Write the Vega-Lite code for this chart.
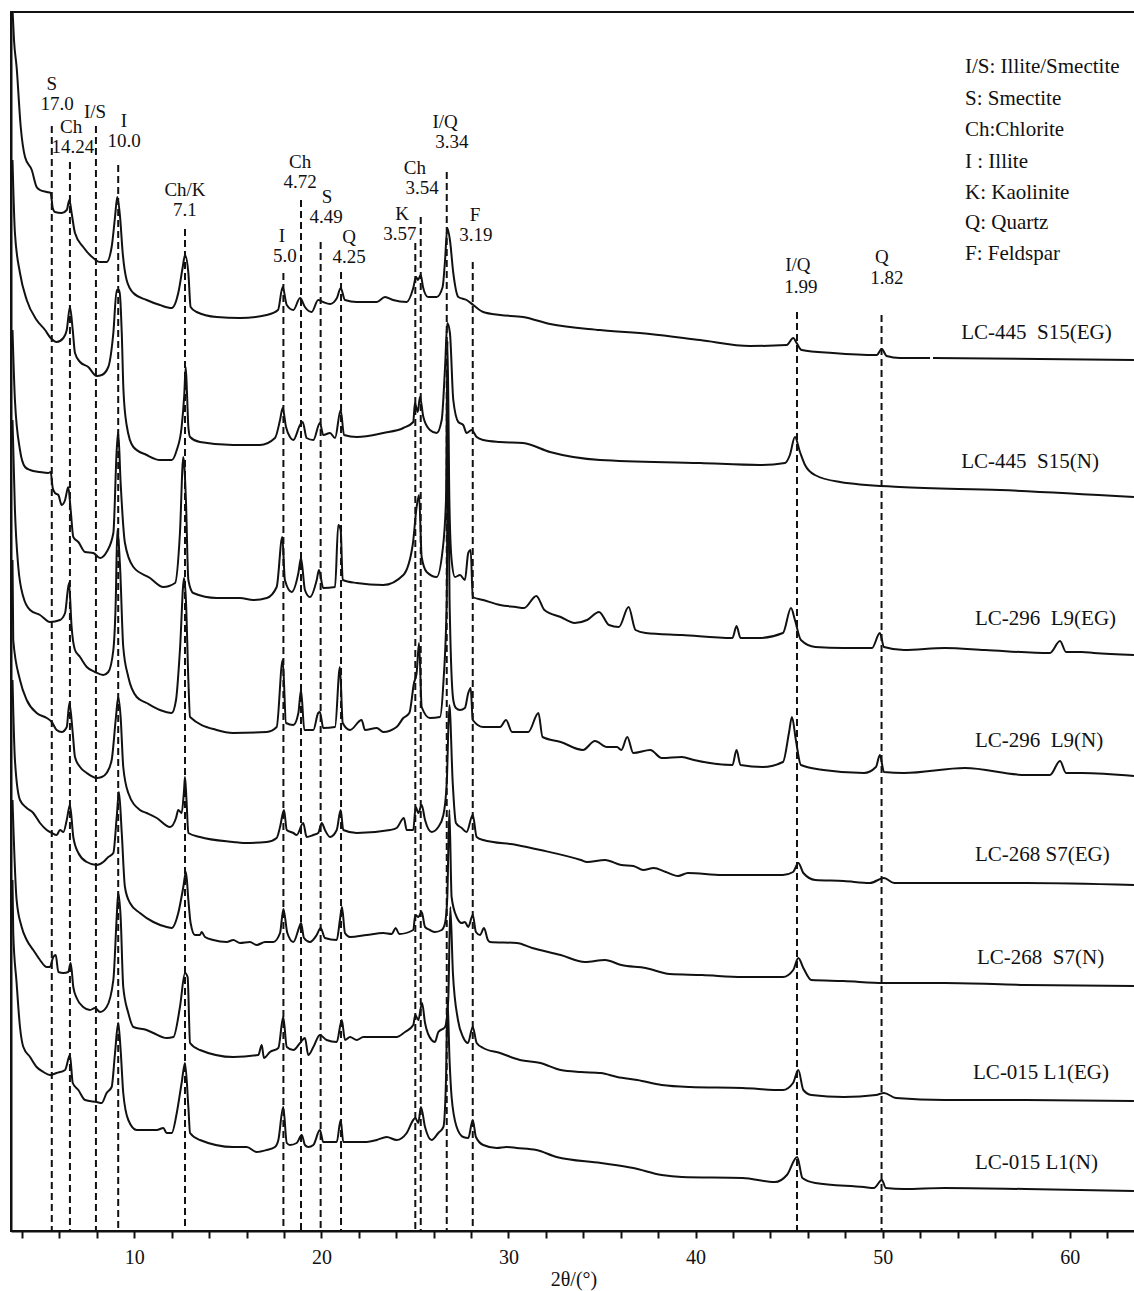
{
"$schema": "https://vega.github.io/schema/vega-lite/v6.json",
"width": 1125, "height": 1219,
"autosize": {"type": "none"},
"padding": {"left": 11, "top": 12, "right": 0, "bottom": 60},
"background": "white",
"config": {"view": {"stroke": "#111", "strokeWidth": 2}, "font": "Liberation Serif", "axis": {"labelOverlap": false}},
"datasets": {
"curves": [
{"s":1,"t":3.50,"i":1218},{"s":1,"t":3.57,"i":1191},{"s":1,"t":3.71,"i":1164},{"s":1,"t":3.93,"i":1104},{"s":1,"t":4.16,"i":1074},{"s":1,"t":4.52,"i":1061},{"s":1,"t":4.78,"i":1044},{"s":1,"t":4.96,"i":1041},{"s":1,"t":5.32,"i":1039},{"s":1,"t":5.53,"i":1038},{"s":1,"t":5.64,"i":1023},{"s":1,"t":5.76,"i":1019},{"s":1,"t":6.12,"i":1018},{"s":1,"t":6.39,"i":1021},{"s":1,"t":6.53,"i":1031},{"s":1,"t":6.65,"i":1018},{"s":1,"t":6.83,"i":998},{"s":1,"t":7.27,"i":984},{"s":1,"t":7.81,"i":973},{"s":1,"t":8.17,"i":969},{"s":1,"t":8.52,"i":969},{"s":1,"t":8.79,"i":984},{"s":1,"t":8.97,"i":1014},{"s":1,"t":9.09,"i":1034},{"s":1,"t":9.24,"i":1014},{"s":1,"t":9.38,"i":978},{"s":1,"t":9.59,"i":951},{"s":1,"t":9.95,"i":938},{"s":1,"t":10.66,"i":931},{"s":1,"t":11.37,"i":926},{"s":1,"t":12.00,"i":923},{"s":1,"t":12.35,"i":938},{"s":1,"t":12.59,"i":964},{"s":1,"t":12.71,"i":976},{"s":1,"t":12.89,"i":958},{"s":1,"t":13.01,"i":924},{"s":1,"t":13.33,"i":919},{"s":1,"t":14.40,"i":914},{"s":1,"t":15.65,"i":913},{"s":1,"t":17.08,"i":916},{"s":1,"t":17.68,"i":921},{"s":1,"t":17.93,"i":944},{"s":1,"t":18.15,"i":926},{"s":1,"t":18.50,"i":921},{"s":1,"t":18.86,"i":933},{"s":1,"t":19.12,"i":924},{"s":1,"t":19.48,"i":919},{"s":1,"t":19.83,"i":931},{"s":1,"t":20.09,"i":929},{"s":1,"t":20.46,"i":927},{"s":1,"t":20.83,"i":933},{"s":1,"t":21.03,"i":943},{"s":1,"t":21.26,"i":931},{"s":1,"t":21.89,"i":929},{"s":1,"t":22.96,"i":929},{"s":1,"t":23.40,"i":934},{"s":1,"t":23.83,"i":931},{"s":1,"t":24.56,"i":929},{"s":1,"t":24.91,"i":943},{"s":1,"t":25.06,"i":954},{"s":1,"t":25.16,"i":951},{"s":1,"t":25.31,"i":956},{"s":1,"t":25.43,"i":944},{"s":1,"t":25.70,"i":934},{"s":1,"t":26.16,"i":934},{"s":1,"t":26.48,"i":944},{"s":1,"t":26.61,"i":971},{"s":1,"t":26.73,"i":1003},{"s":1,"t":26.87,"i":991},{"s":1,"t":27.05,"i":958},{"s":1,"t":27.32,"i":934},{"s":1,"t":27.76,"i":931},{"s":1,"t":28.12,"i":926},{"s":1,"t":28.65,"i":919},{"s":1,"t":29.55,"i":916},{"s":1,"t":30.78,"i":914},{"s":1,"t":32.22,"i":907},{"s":1,"t":34.89,"i":901},{"s":1,"t":37.56,"i":897},{"s":1,"t":40.24,"i":891},{"s":1,"t":42.91,"i":885},{"s":1,"t":44.87,"i":886},{"s":1,"t":45.22,"i":893},{"s":1,"t":45.40,"i":888},{"s":1,"t":45.67,"i":881},{"s":1,"t":47.34,"i":878},{"s":1,"t":49.68,"i":876},{"s":1,"t":49.95,"i":882},{"s":1,"t":50.21,"i":875},{"s":1,"t":50.92,"i":873},{"s":1,"t":52.53,"i":873},{"s":9,"t":52.69,"i":873},{"s":9,"t":63.43,"i":871},
{"s":2,"t":3.49,"i":1071},{"s":2,"t":3.62,"i":998},{"s":2,"t":3.89,"i":958},{"s":2,"t":4.25,"i":931},{"s":2,"t":4.78,"i":911},{"s":2,"t":5.23,"i":901},{"s":2,"t":5.53,"i":893},{"s":2,"t":5.85,"i":889},{"s":2,"t":6.21,"i":893},{"s":2,"t":6.39,"i":901},{"s":2,"t":6.56,"i":924},{"s":2,"t":6.71,"i":901},{"s":2,"t":6.83,"i":878},{"s":2,"t":7.10,"i":869},{"s":2,"t":7.54,"i":864},{"s":2,"t":7.99,"i":855},{"s":2,"t":8.26,"i":856},{"s":2,"t":8.61,"i":864},{"s":2,"t":8.88,"i":898},{"s":2,"t":9.06,"i":941},{"s":2,"t":9.20,"i":941},{"s":2,"t":9.33,"i":898},{"s":2,"t":9.42,"i":841},{"s":2,"t":9.59,"i":806},{"s":2,"t":9.95,"i":784},{"s":2,"t":10.66,"i":776},{"s":2,"t":11.37,"i":771},{"s":2,"t":12.00,"i":771},{"s":2,"t":12.27,"i":781},{"s":2,"t":12.53,"i":804},{"s":2,"t":12.67,"i":836},{"s":2,"t":12.75,"i":864},{"s":2,"t":12.82,"i":836},{"s":2,"t":12.89,"i":804},{"s":2,"t":12.98,"i":794},{"s":2,"t":13.51,"i":789},{"s":2,"t":15.28,"i":786},{"s":2,"t":16.72,"i":786},{"s":2,"t":17.52,"i":793},{"s":2,"t":17.79,"i":811},{"s":2,"t":17.93,"i":823},{"s":2,"t":18.11,"i":804},{"s":2,"t":18.32,"i":794},{"s":2,"t":18.50,"i":791},{"s":2,"t":18.86,"i":806},{"s":2,"t":19.00,"i":809},{"s":2,"t":19.21,"i":793},{"s":2,"t":19.57,"i":791},{"s":2,"t":19.92,"i":808},{"s":2,"t":20.10,"i":796},{"s":2,"t":20.46,"i":798},{"s":2,"t":20.73,"i":793},{"s":2,"t":21.03,"i":821},{"s":2,"t":21.21,"i":796},{"s":2,"t":21.89,"i":794},{"s":2,"t":23.31,"i":798},{"s":2,"t":24.38,"i":803},{"s":2,"t":24.91,"i":809},{"s":2,"t":25.00,"i":828},{"s":2,"t":25.15,"i":819},{"s":2,"t":25.27,"i":834},{"s":2,"t":25.45,"i":814},{"s":2,"t":25.80,"i":801},{"s":2,"t":26.16,"i":798},{"s":2,"t":26.43,"i":811},{"s":2,"t":26.61,"i":864},{"s":2,"t":26.73,"i":908},{"s":2,"t":26.87,"i":898},{"s":2,"t":27.05,"i":831},{"s":2,"t":27.32,"i":809},{"s":2,"t":27.58,"i":806},{"s":2,"t":27.76,"i":798},{"s":2,"t":28.03,"i":801},{"s":2,"t":28.30,"i":794},{"s":2,"t":28.65,"i":791},{"s":2,"t":29.55,"i":789},{"s":2,"t":30.78,"i":788},{"s":2,"t":32.22,"i":779},{"s":2,"t":34.89,"i":771},{"s":2,"t":40.24,"i":768},{"s":2,"t":43.44,"i":766},{"s":2,"t":44.78,"i":768},{"s":2,"t":45.04,"i":776},{"s":2,"t":45.31,"i":794},{"s":2,"t":45.58,"i":779},{"s":2,"t":45.85,"i":766},{"s":2,"t":46.38,"i":756},{"s":2,"t":47.72,"i":749},{"s":2,"t":50.92,"i":744},{"s":2,"t":56.27,"i":741},{"s":2,"t":63.43,"i":734},
{"s":3,"t":3.49,"i":901},{"s":3,"t":3.62,"i":831},{"s":3,"t":3.89,"i":781},{"s":3,"t":4.16,"i":764},{"s":3,"t":4.43,"i":761},{"s":3,"t":4.96,"i":759},{"s":3,"t":5.40,"i":758},{"s":3,"t":5.53,"i":759},{"s":3,"t":5.64,"i":743},{"s":3,"t":5.76,"i":738},{"s":3,"t":5.94,"i":736},{"s":3,"t":6.12,"i":726},{"s":3,"t":6.30,"i":731},{"s":3,"t":6.47,"i":744},{"s":3,"t":6.60,"i":721},{"s":3,"t":6.74,"i":694},{"s":3,"t":7.01,"i":689},{"s":3,"t":7.37,"i":679},{"s":3,"t":7.81,"i":678},{"s":3,"t":8.17,"i":673},{"s":3,"t":8.52,"i":679},{"s":3,"t":8.88,"i":698},{"s":3,"t":9.06,"i":781},{"s":3,"t":9.14,"i":799},{"s":3,"t":9.27,"i":748},{"s":3,"t":9.50,"i":688},{"s":3,"t":9.95,"i":664},{"s":3,"t":10.84,"i":653},{"s":3,"t":11.55,"i":644},{"s":3,"t":12.18,"i":648},{"s":3,"t":12.44,"i":698},{"s":3,"t":12.62,"i":774},{"s":3,"t":12.76,"i":731},{"s":3,"t":12.89,"i":651},{"s":3,"t":13.15,"i":638},{"s":3,"t":14.40,"i":633},{"s":3,"t":15.65,"i":633},{"s":3,"t":16.36,"i":631},{"s":3,"t":17.08,"i":633},{"s":3,"t":17.61,"i":644},{"s":3,"t":17.91,"i":694},{"s":3,"t":18.05,"i":651},{"s":3,"t":18.41,"i":639},{"s":3,"t":18.77,"i":658},{"s":3,"t":18.91,"i":673},{"s":3,"t":19.12,"i":641},{"s":3,"t":19.39,"i":634},{"s":3,"t":19.75,"i":651},{"s":3,"t":19.87,"i":661},{"s":3,"t":20.10,"i":643},{"s":3,"t":20.73,"i":644},{"s":3,"t":20.90,"i":706},{"s":3,"t":21.03,"i":701},{"s":3,"t":21.14,"i":651},{"s":3,"t":21.89,"i":648},{"s":3,"t":23.31,"i":646},{"s":3,"t":24.38,"i":656},{"s":3,"t":24.88,"i":686},{"s":3,"t":25.09,"i":724},{"s":3,"t":25.22,"i":736},{"s":3,"t":25.36,"i":674},{"s":3,"t":25.63,"i":659},{"s":3,"t":26.16,"i":654},{"s":3,"t":26.48,"i":681},{"s":3,"t":26.66,"i":731},{"s":3,"t":26.74,"i":890},{"s":3,"t":26.84,"i":731},{"s":3,"t":26.96,"i":671},{"s":3,"t":27.14,"i":654},{"s":3,"t":27.41,"i":656},{"s":3,"t":27.67,"i":651},{"s":3,"t":27.85,"i":678},{"s":3,"t":27.98,"i":681},{"s":3,"t":28.09,"i":634},{"s":3,"t":28.65,"i":631},{"s":3,"t":29.55,"i":626},{"s":3,"t":30.40,"i":624},{"s":3,"t":30.83,"i":623},{"s":3,"t":31.49,"i":635},{"s":3,"t":31.92,"i":621},{"s":3,"t":32.79,"i":614},{"s":3,"t":33.54,"i":608},{"s":3,"t":34.20,"i":611},{"s":3,"t":34.84,"i":619},{"s":3,"t":35.37,"i":606},{"s":3,"t":35.90,"i":604},{"s":3,"t":36.42,"i":624},{"s":3,"t":36.79,"i":601},{"s":3,"t":37.33,"i":598},{"s":3,"t":39.27,"i":596},{"s":3,"t":41.97,"i":593},{"s":3,"t":42.19,"i":605},{"s":3,"t":42.40,"i":593},{"s":3,"t":43.38,"i":593},{"s":3,"t":44.67,"i":598},{"s":3,"t":45.10,"i":623},{"s":3,"t":45.31,"i":611},{"s":3,"t":45.63,"i":591},{"s":3,"t":46.40,"i":584},{"s":3,"t":47.92,"i":583},{"s":3,"t":49.43,"i":583},{"s":3,"t":49.85,"i":598},{"s":3,"t":50.07,"i":584},{"s":3,"t":51.14,"i":581},{"s":3,"t":53.32,"i":583},{"s":3,"t":55.47,"i":581},{"s":3,"t":58.94,"i":578},{"s":3,"t":59.48,"i":590},{"s":3,"t":59.80,"i":579},{"s":3,"t":60.65,"i":579},{"s":3,"t":61.29,"i":578},{"s":3,"t":63.43,"i":576},
{"s":4,"t":3.49,"i":811},{"s":4,"t":3.62,"i":721},{"s":4,"t":3.80,"i":664},{"s":4,"t":4.07,"i":634},{"s":4,"t":4.43,"i":621},{"s":4,"t":4.96,"i":616},{"s":4,"t":5.49,"i":609},{"s":4,"t":6.03,"i":611},{"s":4,"t":6.30,"i":618},{"s":4,"t":6.51,"i":648},{"s":4,"t":6.65,"i":604},{"s":4,"t":6.83,"i":581},{"s":4,"t":7.10,"i":574},{"s":4,"t":7.46,"i":564},{"s":4,"t":7.90,"i":559},{"s":4,"t":8.34,"i":556},{"s":4,"t":8.61,"i":559},{"s":4,"t":8.88,"i":581},{"s":4,"t":9.01,"i":631},{"s":4,"t":9.09,"i":701},{"s":4,"t":9.24,"i":664},{"s":4,"t":9.41,"i":584},{"s":4,"t":9.68,"i":554},{"s":4,"t":10.13,"i":534},{"s":4,"t":10.66,"i":528},{"s":4,"t":11.37,"i":521},{"s":4,"t":12.00,"i":518},{"s":4,"t":12.23,"i":531},{"s":4,"t":12.44,"i":581},{"s":4,"t":12.66,"i":653},{"s":4,"t":12.76,"i":631},{"s":4,"t":12.89,"i":551},{"s":4,"t":12.98,"i":514},{"s":4,"t":14.40,"i":501},{"s":4,"t":15.28,"i":498},{"s":4,"t":17.08,"i":499},{"s":4,"t":17.61,"i":504},{"s":4,"t":17.93,"i":571},{"s":4,"t":18.11,"i":508},{"s":4,"t":18.50,"i":506},{"s":4,"t":18.77,"i":518},{"s":4,"t":18.91,"i":541},{"s":4,"t":19.09,"i":501},{"s":4,"t":19.57,"i":501},{"s":4,"t":19.83,"i":518},{"s":4,"t":19.92,"i":519},{"s":4,"t":20.10,"i":503},{"s":4,"t":20.73,"i":504},{"s":4,"t":20.99,"i":564},{"s":4,"t":21.14,"i":508},{"s":4,"t":21.53,"i":501},{"s":4,"t":22.15,"i":511},{"s":4,"t":22.33,"i":501},{"s":4,"t":22.96,"i":503},{"s":4,"t":23.31,"i":499},{"s":4,"t":24.02,"i":504},{"s":4,"t":24.38,"i":513},{"s":4,"t":24.70,"i":518},{"s":4,"t":24.95,"i":548},{"s":4,"t":25.09,"i":558},{"s":4,"t":25.22,"i":588},{"s":4,"t":25.36,"i":524},{"s":4,"t":25.80,"i":513},{"s":4,"t":26.34,"i":514},{"s":4,"t":26.52,"i":548},{"s":4,"t":26.70,"i":631},{"s":4,"t":26.76,"i":811},{"s":4,"t":26.85,"i":631},{"s":4,"t":27.05,"i":531},{"s":4,"t":27.19,"i":523},{"s":4,"t":27.41,"i":521},{"s":4,"t":27.67,"i":523},{"s":4,"t":27.85,"i":538},{"s":4,"t":27.98,"i":543},{"s":4,"t":28.09,"i":511},{"s":4,"t":28.65,"i":504},{"s":4,"t":29.55,"i":504},{"s":4,"t":29.87,"i":511},{"s":4,"t":30.19,"i":499},{"s":4,"t":31.06,"i":499},{"s":4,"t":31.60,"i":518},{"s":4,"t":31.82,"i":494},{"s":4,"t":32.79,"i":489},{"s":4,"t":33.98,"i":481},{"s":4,"t":34.62,"i":490},{"s":4,"t":35.26,"i":484},{"s":4,"t":35.80,"i":484},{"s":4,"t":36.03,"i":481},{"s":4,"t":36.35,"i":494},{"s":4,"t":36.67,"i":478},{"s":4,"t":37.58,"i":481},{"s":4,"t":38.19,"i":473},{"s":4,"t":39.27,"i":474},{"s":4,"t":39.91,"i":471},{"s":4,"t":41.97,"i":466},{"s":4,"t":42.19,"i":481},{"s":4,"t":42.40,"i":466},{"s":4,"t":43.59,"i":464},{"s":4,"t":44.67,"i":469},{"s":4,"t":44.99,"i":498},{"s":4,"t":45.15,"i":514},{"s":4,"t":45.36,"i":491},{"s":4,"t":45.63,"i":466},{"s":4,"t":46.84,"i":461},{"s":4,"t":49.00,"i":458},{"s":4,"t":49.64,"i":464},{"s":4,"t":49.85,"i":476},{"s":4,"t":50.07,"i":459},{"s":4,"t":51.14,"i":458},{"s":4,"t":54.40,"i":463},{"s":4,"t":57.65,"i":456},{"s":4,"t":58.94,"i":456},{"s":4,"t":59.48,"i":470},{"s":4,"t":59.80,"i":458},{"s":4,"t":60.65,"i":458},{"s":4,"t":63.43,"i":455},
{"s":5,"t":3.49,"i":671},{"s":5,"t":3.53,"i":591},{"s":5,"t":3.89,"i":551},{"s":5,"t":4.25,"i":531},{"s":5,"t":4.78,"i":518},{"s":5,"t":5.32,"i":513},{"s":5,"t":5.59,"i":509},{"s":5,"t":5.85,"i":501},{"s":5,"t":6.12,"i":499},{"s":5,"t":6.39,"i":504},{"s":5,"t":6.53,"i":528},{"s":5,"t":6.71,"i":498},{"s":5,"t":6.83,"i":474},{"s":5,"t":7.10,"i":464},{"s":5,"t":7.46,"i":458},{"s":5,"t":7.99,"i":453},{"s":5,"t":8.26,"i":454},{"s":5,"t":8.52,"i":458},{"s":5,"t":8.79,"i":471},{"s":5,"t":9.02,"i":514},{"s":5,"t":9.14,"i":534},{"s":5,"t":9.27,"i":514},{"s":5,"t":9.41,"i":464},{"s":5,"t":9.68,"i":438},{"s":5,"t":10.30,"i":421},{"s":5,"t":10.66,"i":418},{"s":5,"t":11.20,"i":413},{"s":5,"t":11.91,"i":404},{"s":5,"t":12.23,"i":413},{"s":5,"t":12.35,"i":421},{"s":5,"t":12.53,"i":418},{"s":5,"t":12.66,"i":441},{"s":5,"t":12.71,"i":454},{"s":5,"t":12.79,"i":431},{"s":5,"t":12.89,"i":398},{"s":5,"t":13.51,"i":394},{"s":5,"t":15.29,"i":389},{"s":5,"t":15.83,"i":388},{"s":5,"t":17.08,"i":389},{"s":5,"t":17.61,"i":393},{"s":5,"t":17.79,"i":404},{"s":5,"t":18.00,"i":421},{"s":5,"t":18.15,"i":401},{"s":5,"t":18.50,"i":398},{"s":5,"t":18.68,"i":396},{"s":5,"t":19.03,"i":408},{"s":5,"t":19.21,"i":394},{"s":5,"t":19.57,"i":396},{"s":5,"t":19.83,"i":398},{"s":5,"t":20.02,"i":408},{"s":5,"t":20.19,"i":401},{"s":5,"t":20.46,"i":394},{"s":5,"t":20.82,"i":401},{"s":5,"t":21.03,"i":421},{"s":5,"t":21.17,"i":401},{"s":5,"t":21.89,"i":398},{"s":5,"t":23.67,"i":401},{"s":5,"t":24.02,"i":403},{"s":5,"t":24.41,"i":413},{"s":5,"t":24.56,"i":401},{"s":5,"t":24.91,"i":401},{"s":5,"t":25.04,"i":424},{"s":5,"t":25.18,"i":418},{"s":5,"t":25.36,"i":426},{"s":5,"t":25.54,"i":411},{"s":5,"t":25.89,"i":399},{"s":5,"t":26.25,"i":404},{"s":5,"t":26.52,"i":416},{"s":5,"t":26.70,"i":448},{"s":5,"t":26.84,"i":526},{"s":5,"t":27.02,"i":448},{"s":5,"t":27.19,"i":408},{"s":5,"t":27.50,"i":403},{"s":5,"t":27.76,"i":399},{"s":5,"t":28.09,"i":416},{"s":5,"t":28.30,"i":394},{"s":5,"t":28.65,"i":391},{"s":5,"t":30.44,"i":386},{"s":5,"t":31.71,"i":381},{"s":5,"t":33.87,"i":371},{"s":5,"t":34.20,"i":369},{"s":5,"t":35.16,"i":371},{"s":5,"t":36.03,"i":366},{"s":5,"t":36.67,"i":365},{"s":5,"t":37.21,"i":361},{"s":5,"t":37.76,"i":363},{"s":5,"t":38.41,"i":359},{"s":5,"t":39.06,"i":355},{"s":5,"t":39.59,"i":358},{"s":5,"t":41.43,"i":356},{"s":5,"t":44.67,"i":356},{"s":5,"t":45.21,"i":359},{"s":5,"t":45.49,"i":368},{"s":5,"t":45.76,"i":358},{"s":5,"t":46.40,"i":351},{"s":5,"t":47.92,"i":350},{"s":5,"t":49.32,"i":348},{"s":5,"t":50.07,"i":353},{"s":5,"t":50.61,"i":348},{"s":5,"t":53.32,"i":348},{"s":5,"t":57.65,"i":348},{"s":5,"t":63.43,"i":346},
{"s":6,"t":3.49,"i":551},{"s":6,"t":3.62,"i":471},{"s":6,"t":3.89,"i":431},{"s":6,"t":4.25,"i":423},{"s":6,"t":4.60,"i":418},{"s":6,"t":4.96,"i":408},{"s":6,"t":5.32,"i":401},{"s":6,"t":5.59,"i":398},{"s":6,"t":5.85,"i":396},{"s":6,"t":6.03,"i":401},{"s":6,"t":6.21,"i":399},{"s":6,"t":6.39,"i":411},{"s":6,"t":6.56,"i":426},{"s":6,"t":6.74,"i":394},{"s":6,"t":7.01,"i":378},{"s":6,"t":7.46,"i":369},{"s":6,"t":7.99,"i":366},{"s":6,"t":8.34,"i":369},{"s":6,"t":8.61,"i":374},{"s":6,"t":8.88,"i":378},{"s":6,"t":9.06,"i":414},{"s":6,"t":9.18,"i":439},{"s":6,"t":9.33,"i":398},{"s":6,"t":9.50,"i":344},{"s":6,"t":9.77,"i":328},{"s":6,"t":10.30,"i":318},{"s":6,"t":11.02,"i":309},{"s":6,"t":11.73,"i":304},{"s":6,"t":12.00,"i":303},{"s":6,"t":12.35,"i":318},{"s":6,"t":12.62,"i":344},{"s":6,"t":12.76,"i":359},{"s":6,"t":12.89,"i":331},{"s":6,"t":13.01,"i":308},{"s":6,"t":13.24,"i":296},{"s":6,"t":13.51,"i":296},{"s":6,"t":13.60,"i":299},{"s":6,"t":13.78,"i":294},{"s":6,"t":14.22,"i":291},{"s":6,"t":14.94,"i":289},{"s":6,"t":15.29,"i":291},{"s":6,"t":15.65,"i":288},{"s":6,"t":16.18,"i":289},{"s":6,"t":16.54,"i":286},{"s":6,"t":16.99,"i":289},{"s":6,"t":17.43,"i":289},{"s":6,"t":17.79,"i":298},{"s":6,"t":17.97,"i":322},{"s":6,"t":18.18,"i":298},{"s":6,"t":18.50,"i":289},{"s":6,"t":18.82,"i":304},{"s":6,"t":18.91,"i":308},{"s":6,"t":19.07,"i":293},{"s":6,"t":19.39,"i":289},{"s":6,"t":19.75,"i":296},{"s":6,"t":19.96,"i":303},{"s":6,"t":20.19,"i":293},{"s":6,"t":20.82,"i":291},{"s":6,"t":20.99,"i":311},{"s":6,"t":21.10,"i":324},{"s":6,"t":21.26,"i":298},{"s":6,"t":21.53,"i":294},{"s":6,"t":22.42,"i":296},{"s":6,"t":23.31,"i":298},{"s":6,"t":23.76,"i":297},{"s":6,"t":23.97,"i":303},{"s":6,"t":24.16,"i":297},{"s":6,"t":24.91,"i":301},{"s":6,"t":25.02,"i":316},{"s":6,"t":25.18,"i":314},{"s":6,"t":25.36,"i":319},{"s":6,"t":25.54,"i":304},{"s":6,"t":25.80,"i":301},{"s":6,"t":26.07,"i":299},{"s":6,"t":26.43,"i":301},{"s":6,"t":26.61,"i":308},{"s":6,"t":26.73,"i":334},{"s":6,"t":26.84,"i":421},{"s":6,"t":26.96,"i":334},{"s":6,"t":27.23,"i":314},{"s":6,"t":27.50,"i":308},{"s":6,"t":27.67,"i":309},{"s":6,"t":27.85,"i":304},{"s":6,"t":28.09,"i":316},{"s":6,"t":28.26,"i":299},{"s":6,"t":28.48,"i":296},{"s":6,"t":28.69,"i":303},{"s":6,"t":28.90,"i":291},{"s":6,"t":29.01,"i":289},{"s":6,"t":30.44,"i":288},{"s":6,"t":31.27,"i":283},{"s":6,"t":32.79,"i":276},{"s":6,"t":34.09,"i":269},{"s":6,"t":35.16,"i":271},{"s":6,"t":36.03,"i":266},{"s":6,"t":37.33,"i":263},{"s":6,"t":38.62,"i":257},{"s":6,"t":40.35,"i":256},{"s":6,"t":42.51,"i":254},{"s":6,"t":44.67,"i":254},{"s":6,"t":45.22,"i":261},{"s":6,"t":45.49,"i":273},{"s":6,"t":45.76,"i":263},{"s":6,"t":46.19,"i":251},{"s":6,"t":47.92,"i":250},{"s":6,"t":50.07,"i":248},{"s":6,"t":53.32,"i":248},{"s":6,"t":57.65,"i":246},{"s":6,"t":63.43,"i":245},
{"s":7,"t":3.49,"i":431},{"s":7,"t":3.71,"i":331},{"s":7,"t":3.98,"i":304},{"s":7,"t":4.25,"i":291},{"s":7,"t":4.60,"i":281},{"s":7,"t":4.96,"i":271},{"s":7,"t":5.32,"i":264},{"s":7,"t":5.49,"i":264},{"s":7,"t":5.67,"i":274},{"s":7,"t":5.80,"i":276},{"s":7,"t":5.94,"i":259},{"s":7,"t":6.21,"i":258},{"s":7,"t":6.47,"i":259},{"s":7,"t":6.60,"i":268},{"s":7,"t":6.74,"i":244},{"s":7,"t":6.92,"i":233},{"s":7,"t":7.27,"i":224},{"s":7,"t":7.63,"i":221},{"s":7,"t":7.90,"i":223},{"s":7,"t":8.17,"i":219},{"s":7,"t":8.52,"i":224},{"s":7,"t":8.88,"i":251},{"s":7,"t":9.06,"i":314},{"s":7,"t":9.14,"i":338},{"s":7,"t":9.27,"i":314},{"s":7,"t":9.41,"i":244},{"s":7,"t":9.68,"i":218},{"s":7,"t":9.95,"i":204},{"s":7,"t":10.66,"i":201},{"s":7,"t":11.02,"i":198},{"s":7,"t":11.73,"i":193},{"s":7,"t":12.09,"i":194},{"s":7,"t":12.44,"i":224},{"s":7,"t":12.71,"i":258},{"s":7,"t":12.85,"i":254},{"s":7,"t":12.98,"i":188},{"s":7,"t":13.51,"i":181},{"s":7,"t":15.29,"i":174},{"s":7,"t":16.63,"i":176},{"s":7,"t":16.81,"i":186},{"s":7,"t":16.93,"i":173},{"s":7,"t":17.25,"i":179},{"s":7,"t":17.70,"i":183},{"s":7,"t":17.96,"i":214},{"s":7,"t":18.15,"i":184},{"s":7,"t":18.50,"i":181},{"s":7,"t":18.86,"i":188},{"s":7,"t":19.12,"i":193},{"s":7,"t":19.30,"i":176},{"s":7,"t":19.57,"i":184},{"s":7,"t":19.92,"i":196},{"s":7,"t":20.28,"i":191},{"s":7,"t":20.82,"i":189},{"s":7,"t":21.09,"i":211},{"s":7,"t":21.26,"i":191},{"s":7,"t":21.53,"i":194},{"s":7,"t":21.89,"i":191},{"s":7,"t":22.24,"i":194},{"s":7,"t":23.31,"i":194},{"s":7,"t":24.02,"i":194},{"s":7,"t":24.47,"i":199},{"s":7,"t":24.91,"i":206},{"s":7,"t":25.02,"i":216},{"s":7,"t":25.18,"i":211},{"s":7,"t":25.38,"i":228},{"s":7,"t":25.54,"i":208},{"s":7,"t":25.89,"i":191},{"s":7,"t":26.07,"i":189},{"s":7,"t":26.25,"i":199},{"s":7,"t":26.61,"i":204},{"s":7,"t":26.78,"i":231},{"s":7,"t":26.89,"i":324},{"s":7,"t":27.03,"i":258},{"s":7,"t":27.30,"i":211},{"s":7,"t":27.57,"i":194},{"s":7,"t":27.83,"i":188},{"s":7,"t":28.09,"i":204},{"s":7,"t":28.30,"i":188},{"s":7,"t":28.65,"i":183},{"s":7,"t":29.55,"i":178},{"s":7,"t":30.61,"i":171},{"s":7,"t":31.71,"i":168},{"s":7,"t":32.79,"i":161},{"s":7,"t":33.88,"i":159},{"s":7,"t":34.94,"i":158},{"s":7,"t":35.81,"i":154},{"s":7,"t":36.89,"i":151},{"s":7,"t":38.19,"i":146},{"s":7,"t":39.70,"i":144},{"s":7,"t":42.51,"i":143},{"s":7,"t":44.67,"i":141},{"s":7,"t":45.21,"i":148},{"s":7,"t":45.49,"i":161},{"s":7,"t":45.76,"i":141},{"s":7,"t":46.19,"i":136},{"s":7,"t":47.92,"i":134},{"s":7,"t":49.64,"i":136},{"s":7,"t":50.07,"i":138},{"s":7,"t":50.71,"i":133},{"s":7,"t":53.32,"i":131},{"s":7,"t":57.65,"i":131},{"s":7,"t":63.43,"i":130},
{"s":8,"t":3.49,"i":351},{"s":8,"t":3.53,"i":298},{"s":8,"t":3.71,"i":248},{"s":8,"t":3.89,"i":204},{"s":8,"t":4.07,"i":184},{"s":8,"t":4.43,"i":174},{"s":8,"t":4.78,"i":164},{"s":8,"t":5.14,"i":159},{"s":8,"t":5.49,"i":156},{"s":8,"t":5.85,"i":158},{"s":8,"t":6.30,"i":161},{"s":8,"t":6.56,"i":176},{"s":8,"t":6.71,"i":148},{"s":8,"t":7.01,"i":141},{"s":8,"t":7.37,"i":131},{"s":8,"t":7.99,"i":129},{"s":8,"t":8.26,"i":128},{"s":8,"t":8.52,"i":138},{"s":8,"t":8.79,"i":144},{"s":8,"t":8.97,"i":178},{"s":8,"t":9.14,"i":208},{"s":8,"t":9.27,"i":181},{"s":8,"t":9.41,"i":138},{"s":8,"t":9.68,"i":111},{"s":8,"t":10.13,"i":101},{"s":8,"t":11.20,"i":101},{"s":8,"t":11.55,"i":103},{"s":8,"t":11.73,"i":98},{"s":8,"t":12.00,"i":98},{"s":8,"t":12.27,"i":118},{"s":8,"t":12.53,"i":148},{"s":8,"t":12.71,"i":168},{"s":8,"t":12.89,"i":124},{"s":8,"t":12.98,"i":98},{"s":8,"t":13.51,"i":91},{"s":8,"t":15.29,"i":84},{"s":8,"t":16.01,"i":84},{"s":8,"t":16.54,"i":79},{"s":8,"t":17.08,"i":81},{"s":8,"t":17.52,"i":84},{"s":8,"t":17.70,"i":91},{"s":8,"t":17.96,"i":124},{"s":8,"t":18.15,"i":88},{"s":8,"t":18.32,"i":86},{"s":8,"t":18.68,"i":88},{"s":8,"t":18.95,"i":96},{"s":8,"t":19.12,"i":86},{"s":8,"t":19.30,"i":84},{"s":8,"t":19.57,"i":86},{"s":8,"t":19.92,"i":101},{"s":8,"t":20.10,"i":89},{"s":8,"t":20.82,"i":89},{"s":8,"t":21.03,"i":111},{"s":8,"t":21.17,"i":89},{"s":8,"t":22.42,"i":89},{"s":8,"t":22.96,"i":91},{"s":8,"t":23.49,"i":94},{"s":8,"t":24.02,"i":91},{"s":8,"t":24.56,"i":98},{"s":8,"t":24.91,"i":111},{"s":8,"t":25.02,"i":113},{"s":8,"t":25.18,"i":108},{"s":8,"t":25.32,"i":124},{"s":8,"t":25.54,"i":104},{"s":8,"t":25.89,"i":91},{"s":8,"t":26.25,"i":98},{"s":8,"t":26.52,"i":104},{"s":8,"t":26.66,"i":151},{"s":8,"t":26.74,"i":231},{"s":8,"t":26.85,"i":171},{"s":8,"t":26.96,"i":134},{"s":8,"t":27.23,"i":104},{"s":8,"t":27.58,"i":94},{"s":8,"t":27.85,"i":93},{"s":8,"t":28.09,"i":111},{"s":8,"t":28.26,"i":94},{"s":8,"t":28.65,"i":86},{"s":8,"t":29.37,"i":83},{"s":8,"t":29.90,"i":84},{"s":8,"t":30.44,"i":83},{"s":8,"t":31.49,"i":81},{"s":8,"t":32.57,"i":74},{"s":8,"t":34.94,"i":68},{"s":8,"t":36.67,"i":63},{"s":8,"t":38.19,"i":56},{"s":8,"t":39.27,"i":54},{"s":8,"t":42.51,"i":53},{"s":8,"t":44.24,"i":49},{"s":8,"t":44.88,"i":56},{"s":8,"t":45.43,"i":74},{"s":8,"t":45.71,"i":53},{"s":8,"t":46.40,"i":48},{"s":8,"t":49.00,"i":44},{"s":8,"t":49.53,"i":43},{"s":8,"t":49.96,"i":51},{"s":8,"t":50.17,"i":43},{"s":8,"t":51.14,"i":42},{"s":8,"t":53.32,"i":43},{"s":8,"t":57.65,"i":42},{"s":8,"t":63.43,"i":40}
],
"refs": [
{"t":5.59,"i":1105},{"t":6.56,"i":1069},{"t":7.95,"i":1105},{"t":9.14,"i":1066},{"t":12.71,"i":1002},{"t":17.97,"i":958},{"t":18.91,"i":1031},{"t":19.96,"i":989},{"t":21.05,"i":959},{"t":25.02,"i":988},{"t":25.31,"i":1014},{"t":26.70,"i":1059},{"t":28.09,"i":969},{"t":45.42,"i":919},{"t":49.94,"i":916}
],
"peaks": [
{"t":5.59,"i":1147,"txt":"S"},{"t":5.87,"i":1127,"txt":"17.0"},{"t":7.90,"i":1119,"txt":"I/S"},{"t":6.62,"i":1104,"txt":"Ch"},{"t":6.72,"i":1084,"txt":"14.24"},{"t":9.45,"i":1110,"txt":"I"},{"t":9.45,"i":1090,"txt":"10.0"},{"t":12.71,"i":1041,"txt":"Ch/K"},{"t":12.71,"i":1021,"txt":"7.1"},{"t":17.89,"i":995,"txt":"I"},{"t":18.05,"i":975,"txt":"5.0"},{"t":18.86,"i":1069,"txt":"Ch"},{"t":18.86,"i":1049,"txt":"4.72"},{"t":20.30,"i":1034,"txt":"S"},{"t":20.25,"i":1014,"txt":"4.49"},{"t":21.48,"i":994,"txt":"Q"},{"t":21.48,"i":974,"txt":"4.25"},{"t":24.31,"i":1017,"txt":"K"},{"t":24.20,"i":997,"txt":"3.57"},{"t":25.00,"i":1063,"txt":"Ch"},{"t":25.38,"i":1043,"txt":"3.54"},{"t":26.61,"i":1109,"txt":"I/Q"},{"t":26.98,"i":1089,"txt":"3.34"},{"t":28.21,"i":1016,"txt":"F"},{"t":28.26,"i":996,"txt":"3.19"},{"t":45.47,"i":966,"txt":"I/Q"},{"t":45.63,"i":944,"txt":"1.99"},{"t":49.96,"i":974,"txt":"Q"},{"t":50.23,"i":953,"txt":"1.82"}
],
"notes": [
{"t":54.40,"i":1164,"txt":"I/S: Illite/Smectite"},{"t":54.40,"i":1132,"txt":"S: Smectite"},{"t":54.40,"i":1101,"txt":"Ch:Chlorite"},{"t":54.40,"i":1069,"txt":"I :  Illite"},{"t":54.40,"i":1038,"txt":"K: Kaolinite"},{"t":54.40,"i":1008,"txt":"Q: Quartz"},{"t":54.40,"i":977,"txt":"F: Feldspar"},
{"t":54.20,"i":898,"txt":"LC-445\u00a0 S15(EG)"},{"t":54.20,"i":769,"txt":"LC-445\u00a0 S15(N)"},{"t":54.93,"i":612,"txt":"LC-296\u00a0 L9(EG)"},{"t":54.93,"i":490,"txt":"LC-296\u00a0 L9(N)"},{"t":54.93,"i":376,"txt":"LC-268 S7(EG)"},{"t":55.04,"i":273,"txt":"LC-268\u00a0 S7(N)"},{"t":54.83,"i":158,"txt":"LC-015 L1(EG)"},{"t":54.93,"i":68,"txt":"LC-015 L1(N)"}
]
},
"encoding": {
"x": {"field": "t", "type": "quantitative", "scale": {"domain": [3.41, 63.54], "nice": false, "zero": false},
"axis": {"title": "2θ/(°)", "values": [4,6,8,10,12,14,16,18,20,22,24,26,28,30,32,34,36,38,40,42,44,46,48,50,52,54,56,58,60,62],
"labelExpr": "datum.value % 10 === 0 ? datum.label : ''", "grid": false, "labelOverlap": false,
"domainColor": "#111", "domainWidth": 2, "tickColor": "#111", "tickWidth": 2, "tickSize": 7,
"labelFont": "Liberation Serif", "labelFontSize": 20, "labelColor": "#111", "labelPadding": 9, "labelFlush": false,
"titleFont": "Liberation Serif", "titleFontSize": 20, "titleFontWeight": "normal", "titleColor": "#111", "titlePadding": 2}},
"y": {"field": "i", "type": "quantitative", "scale": {"domain": [0, 1219], "nice": false, "zero": false},
"axis": {"title": null, "labels": false, "ticks": false, "grid": false, "domainColor": "#111", "domainWidth": 2}}
},
"layer": [
{
"data": {"name": "refs"},
"mark": {"type": "rule", "color": "#111", "strokeWidth": 2, "strokeDash": [7, 4]},
"encoding": {"y2": {"datum": 0}}
},
{
"data": {"name": "curves"},
"mark": {"type": "line", "color": "#111", "strokeWidth": 2, "strokeJoin": "round", "interpolate": "monotone"},
"encoding": {"detail": {"field": "s", "type": "nominal"}}
},
{
"data": {"name": "peaks"},
"mark": {"type": "text", "font": "Liberation Serif", "fontSize": 19, "color": "#111", "align": "center", "baseline": "middle"},
"encoding": {"text": {"field": "txt"}}
},
{
"data": {"name": "notes"},
"mark": {"type": "text", "font": "Liberation Serif", "fontSize": 21, "color": "#111", "align": "left", "baseline": "middle"},
"encoding": {"text": {"field": "txt"}}
}
]
}
